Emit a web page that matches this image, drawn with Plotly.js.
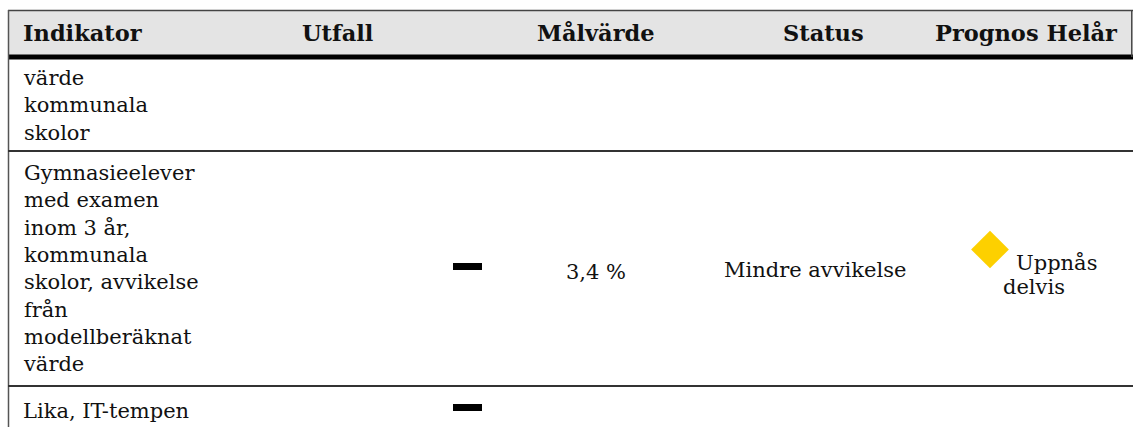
<!DOCTYPE html>
<html><head><meta charset="utf-8">
<script src="https://cdn.plot.ly/plotly-3.0.1.min.js"></script>
<style>html,body{margin:0;padding:0;background:#fff;overflow:hidden;}</style>
</head><body><div id="chart" style="width:1133px;height:427px;"></div>
<script>
// ---- table content ----
const columns = ['Indikator', 'Utfall', 'Målvärde', 'Status', 'Prognos Helår'];
const indicatorLines = [
  ['värde', 'kommunala', 'skolor'],
  ['Gymnasieelever', 'med examen', 'inom 3 år,', 'kommunala', 'skolor, avvikelse', 'från', 'modellberäknat', 'värde'],
  ['Lika, IT-tempen']
];
const utfallMark = [false, true, true];           // black dash marker in Utfall column
const malvarde = ['', '3,4 %', ''];
const status = ['', 'Mindre avvikelse', ''];
const prognos = ['', 'Uppnås delvis', ''];
const prognosSymbol = [null, 'diamond', null];

// ---- geometry (pixels) ----
const W = 1133, H = 427;
const FONT = '"DejaVu Serif", "Liberation Serif", Georgia, serif';
const FS = 21, HFS = 22.5;
const headerCenterY = 33;
const headerX = [21, 300, 596, 823, 1026];
const headerAnchor = ['left', 'left', 'center', 'center', 'center'];
const rowLines = [151, 386];
const rowCenter = [105, 268.5, 411];
const utfallX = 467.5;
const utfallY = [null, 266.5, 407.5];
const malX = 596, statusX = 815, progX = 1034;

const annotations = [];
columns.forEach((c, i) => annotations.push({
  x: headerX[i], y: headerCenterY, xref: 'x', yref: 'y', text: '<b>' + c + '</b>',
  showarrow: false, xanchor: headerAnchor[i], yanchor: 'middle',
  font: {family: FONT, size: HFS, color: '#111'}
}));
indicatorLines.forEach((lines, r) => annotations.push({
  x: 21, y: rowCenter[r], xref: 'x', yref: 'y', text: lines.join('<br>'),
  showarrow: false, xanchor: 'left', yanchor: 'middle', align: 'left',
  font: {family: FONT, size: FS, color: '#111'}
}));
malvarde.forEach((v, r) => { if (v) annotations.push({
  x: malX, y: rowCenter[r] + 3, xref: 'x', yref: 'y', text: v, showarrow: false,
  xanchor: 'center', yanchor: 'middle', font: {family: FONT, size: FS, color: '#111'}
}); });
status.forEach((v, r) => { if (v) annotations.push({
  x: statusX, y: rowCenter[r] + 1, xref: 'x', yref: 'y', text: v, showarrow: false,
  xanchor: 'center', yanchor: 'middle', font: {family: FONT, size: FS, color: '#111'}
}); });
prognos.forEach((v, r) => { if (v) {
  const words = v.split(' ');
  annotations.push({
    x: 1014, y: rowCenter[r] - 6, xref: 'x', yref: 'y', text: words[0], showarrow: false,
    xanchor: 'left', yanchor: 'middle', font: {family: FONT, size: FS, color: '#111'}
  });
  annotations.push({
    x: progX, y: rowCenter[r] + 18, xref: 'x', yref: 'y', text: words.slice(1).join(' '), showarrow: false,
    xanchor: 'center', yanchor: 'middle', font: {family: FONT, size: FS, color: '#111'}
  });
}});

const shapes = [
  {type: 'rect', xref: 'x', yref: 'y', x0: 9, x1: 1132, y0: 10, y1: 55, fillcolor: '#e4e4e4', line: {width: 0}, layer: 'below'},
  {type: 'line', xref: 'x', yref: 'y', x0: 8, x1: 1133, y0: 10.5, y1: 10.5, line: {color: '#444', width: 1.5}},
  {type: 'line', xref: 'x', yref: 'y', x0: 8, x1: 1133, y0: 57, y1: 57, line: {color: '#000', width: 5}},
  {type: 'line', xref: 'x', yref: 'y', x0: 8.5, x1: 8.5, y0: 10, y1: H, line: {color: '#555', width: 1.5}},
  {type: 'line', xref: 'x', yref: 'y', x0: 1131.8, x1: 1131.8, y0: 10, y1: 57, line: {color: '#444', width: 1.5}}
];
rowLines.forEach(y => shapes.push({type: 'line', xref: 'x', yref: 'y', x0: 8, x1: 1133, y0: y, y1: y, line: {color: '#333', width: 1.8}}));

const traces = [];
// Utfall dash markers
const dx = [], dy = [];
utfallMark.forEach((m, r) => { if (m) { dx.push(utfallX); dy.push(utfallY[r]); } });
traces.push({type: 'scatter', mode: 'markers', x: dx, y: dy, hoverinfo: 'skip',
  marker: {symbol: 'line-ew', size: 20.7, line: {color: '#000', width: 7}}});
// Prognos diamond
const px = [], py = [];
prognosSymbol.forEach((s, r) => { if (s) { px.push(990); py.push(249.5); } });
traces.push({type: 'scatter', mode: 'markers', x: px, y: py, hoverinfo: 'skip',
  marker: {symbol: 'diamond', size: 29, color: '#FDD000', line: {width: 0}}});

Plotly.newPlot('chart', traces, {
  width: W, height: H, margin: {l: 0, r: 0, t: 0, b: 0},
  paper_bgcolor: '#fff', plot_bgcolor: '#fff', showlegend: false,
  xaxis: {range: [0, W], visible: false, fixedrange: true},
  yaxis: {range: [H, 0], visible: false, fixedrange: true},
  shapes: shapes, annotations: annotations
}, {staticPlot: true, displayModeBar: false});
</script></body></html>
